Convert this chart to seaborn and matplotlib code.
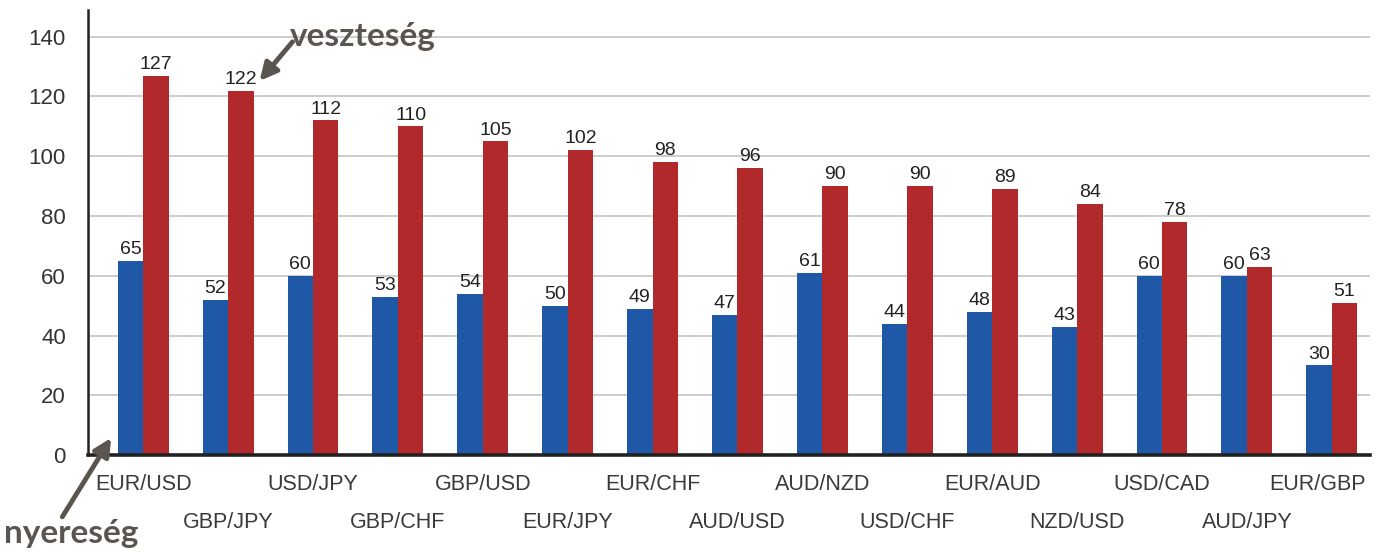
import numpy as np
import pandas as pd
import matplotlib
matplotlib.use("Agg")
import matplotlib.pyplot as plt
import matplotlib.transforms as mtrans
import seaborn as sb

# currency pairs and the two series
pairs = ["EUR/USD", "GBP/JPY", "USD/JPY", "GBP/CHF", "GBP/USD", "EUR/JPY", "EUR/CHF",
         "AUD/USD", "AUD/NZD", "USD/CHF", "EUR/AUD", "NZD/USD", "USD/CAD", "AUD/JPY", "EUR/GBP"]
nyereseg = [65, 52, 60, 53, 54, 50, 49, 47, 61, 44, 48, 43, 60, 60, 30]
veszteseg = [127, 122, 112, 110, 105, 102, 98, 96, 90, 90, 89, 84, 78, 63, 51]
yticks = [0, 20, 40, 60, 80, 100, 120, 140]

df = pd.DataFrame({
    "pair": pairs * 2,
    "value": nyereseg + veszteseg,
    "kind": ["nyereség"] * len(pairs) + ["veszteség"] * len(pairs),
})

sb.set_style("white")
plt.rcParams["font.family"] = ["Liberation Sans", "DejaVu Sans"]

fig = plt.figure(figsize=(13.79, 5.53), dpi=100)
ax = fig.add_axes([0.0638, 0.1772, 0.9297, 0.805])

sb.barplot(data=df, x="pair", y="value", hue="kind", order=pairs,
           palette={"nyereség": "#1f58a6", "veszteség": "#b2292c"},
           width=0.6, saturation=1, legend=False, linewidth=0, ax=ax)

for cont in ax.containers:
    ax.bar_label(cont, padding=2, fontsize=14, color="#222222")

ax.set_ylim(0, 149)
ax.set_xlim(-0.65, len(pairs) - 0.55)
ax.set_yticks(yticks)
ax.yaxis.grid(True, color="#cccccc", linewidth=1.4)
ax.set_axisbelow(True)
ax.tick_params(axis="y", labelsize=16, labelcolor="#333333", length=0, pad=16)
ax.tick_params(axis="x", labelsize=15.5, labelcolor="#3a3a3a", length=0)
ax.set_xlabel("")
ax.set_ylabel("")

for i, tick in enumerate(ax.xaxis.get_major_ticks()):
    tick.set_pad(14 if i % 2 == 0 else 41)

# last label sits a bit left so it stays inside the picture
last = ax.get_xticklabels()[-1]
last.set_transform(last.get_transform() + mtrans.ScaledTranslation(-14 / 100, 0, fig.dpi_scale_trans))

for side in ["top", "right"]:
    ax.spines[side].set_visible(False)
ax.spines["left"].set_color("#222222")
ax.spines["left"].set_linewidth(1.8)
ax.spines["bottom"].set_color("#222222")
ax.spines["bottom"].set_linewidth(2.6)

anno_col = "#5b5550"
ax.annotate("", xy=(1.35, 124.5), xytext=(1.78, 139),
            arrowprops=dict(arrowstyle="-|>", color=anno_col, lw=3.5, mutation_scale=26))
ax.text(1.73, 140, "veszteség", fontsize=24, fontweight="bold", color=anno_col,
        family=["Lato", "DejaVu Sans"], ha="left", va="center")

ax.annotate("", xy=(-0.36, 6.5), xytext=(-0.97, -21.5),
            arrowprops=dict(arrowstyle="-|>", color=anno_col, lw=3.5, mutation_scale=26),
            annotation_clip=False)
fig.text(4 / 1379, 20 / 553, "nyereség", fontsize=24, fontweight="bold", color=anno_col,
         family=["Lato", "DejaVu Sans"], ha="left", va="center")

fig.savefig("out.png", dpi=100)
